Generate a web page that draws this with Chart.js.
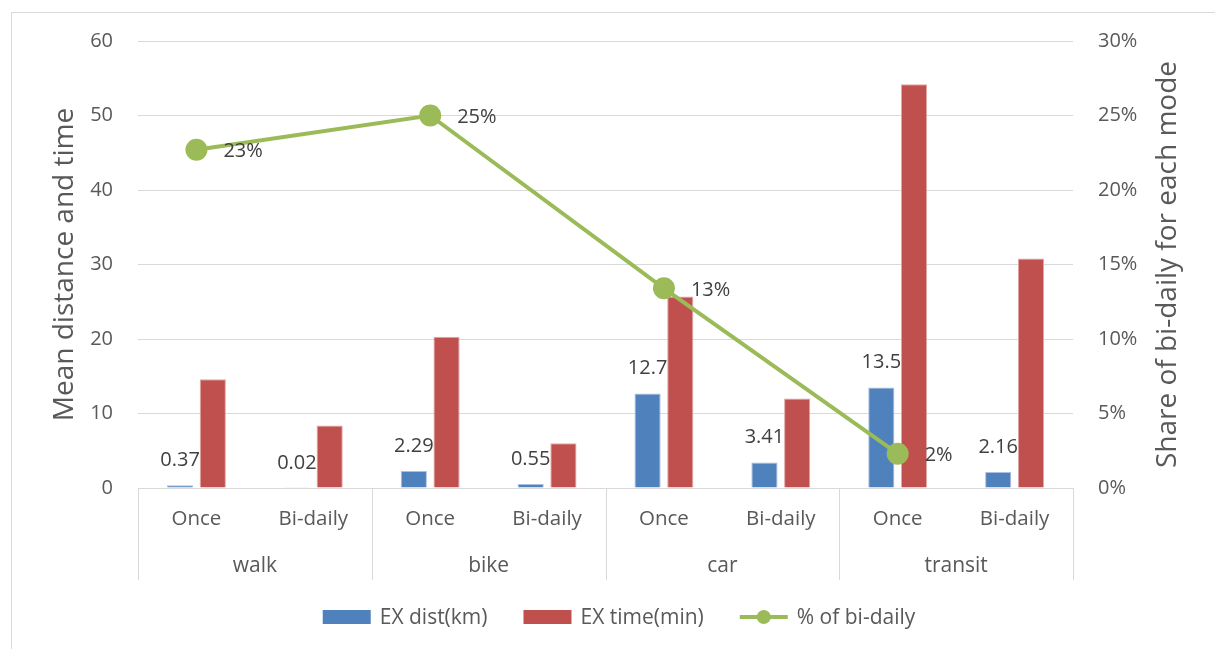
<!DOCTYPE html>
<html lang="en">
<head>
<meta charset="UTF-8">
<title>EX distance and time by mode</title>
<script src="https://cdn.jsdelivr.net/npm/chart.js"></script>
<style>
  body { margin: 0; background: #fff; overflow: hidden; }
  #frame {
    position: absolute; left: 11px; top: 12px; width: 1300px; height: 700px;
    border-left: 1px solid #d9d9d9; border-top: 1px solid #d9d9d9;
  }
  #wrap { position: absolute; left: 0; top: 0; width: 1215px; height: 649px; }
</style>
</head>
<body>
<div id="frame"></div>
<div id="wrap"><canvas id="chart" width="1215" height="649"></canvas></div>
<script>
  // data
  const modes = ['walk', 'bike', 'car', 'transit'];
  const freqLabels = ['Once', 'Bi-daily', 'Once', 'Bi-daily', 'Once', 'Bi-daily', 'Once', 'Bi-daily'];
  const distKm = [0.37, 0.02, 2.29, 0.55, 12.7, 3.41, 13.5, 2.16];
  const timeMin = [14.6, 8.4, 20.3, 6.0, 25.7, 12.0, 54.2, 30.8];
  const shareBiDaily = [22.7, null, 25.0, null, 13.4, null, 2.3, null];
  const seriesNames = ['EX dist(km)', 'EX time(min)', '% of bi-daily'];

  const FONT = '"Open Sans", sans-serif';
  const BLUE = '#4f81bd', RED = '#c0504d', GREEN = '#9bbb59';
  const TXT = '#595959';

  // labels, separators, titles and legend
  const extras = {
    id: 'extras',
    afterDatasetsDraw(chart) {
      const ctx = chart.ctx;
      const area = chart.chartArea;
      const x = chart.scales.x;
      const w = (area.right - area.left) / freqLabels.length;
      ctx.save();

      // value labels on blue bars
      ctx.font = '20px ' + FONT;
      ctx.fillStyle = '#404040';
      ctx.textAlign = 'center';
      ctx.textBaseline = 'middle';
      chart.getDatasetMeta(0).data.forEach((bar, i) => {
        ctx.fillText(String(distKm[i]), bar.x, bar.y - 25);
      });

      // percentage labels right of the points
      ctx.textAlign = 'left';
      chart.getDatasetMeta(2).data.forEach((pt, i) => {
        if (shareBiDaily[i] == null) return;
        ctx.fillText(Math.round(shareBiDaily[i]) + '%', pt.x + 27, pt.y + 2);
      });

      // category separators
      ctx.strokeStyle = '#d9d9d9';
      ctx.lineWidth = 1;
      for (let k = 0; k <= modes.length; k++) {
        const px = Math.round(area.left + k * 2 * w) + 0.5;
        ctx.beginPath();
        ctx.moveTo(px, area.bottom);
        ctx.lineTo(px, area.bottom + 92);
        ctx.stroke();
      }

      // x labels
      ctx.fillStyle = TXT;
      ctx.textAlign = 'center';
      ctx.font = '20.5px ' + FONT;
      freqLabels.forEach((lab, i) => {
        ctx.fillText(lab, x.getPixelForValue(i), area.bottom + 31);
      });
      ctx.font = '21px ' + FONT;
      modes.forEach((m, g) => {
        ctx.fillText(m, area.left + (g * 2 + 1) * w, area.bottom + 78);
      });

      // axis titles
      ctx.font = '28px ' + FONT;
      const midY = (area.top + area.bottom) / 2;
      ctx.save();
      ctx.translate(65, midY);
      ctx.rotate(-Math.PI / 2);
      ctx.fillText('Mean distance and time', 0, 0);
      ctx.restore();
      ctx.save();
      ctx.translate(1168, midY);
      ctx.rotate(-Math.PI / 2);
      ctx.fillText('Share of bi-daily for each mode', 0, 0);
      ctx.restore();

      // legend
      ctx.font = '21px ' + FONT;
      ctx.textAlign = 'left';
      const ly = 617;
      const widths = seriesNames.map(s => ctx.measureText(s).width);
      const total = widths.reduce((a, b) => a + b, 0) + 3 * (48 + 9) + 2 * 36;
      let lx = 619 - total / 2;
      seriesNames.forEach((s, i) => {
        if (i < 2) {
          ctx.fillStyle = i === 0 ? BLUE : RED;
          ctx.fillRect(lx, ly - 7, 48, 14);
        } else {
          ctx.strokeStyle = GREEN;
          ctx.lineWidth = 4;
          ctx.beginPath();
          ctx.moveTo(lx, ly);
          ctx.lineTo(lx + 48, ly);
          ctx.stroke();
          ctx.fillStyle = GREEN;
          ctx.beginPath();
          ctx.arc(lx + 24, ly, 7, 0, Math.PI * 2);
          ctx.fill();
        }
        ctx.fillStyle = TXT;
        ctx.fillText(s, lx + 57, ly + 1);
        lx += 57 + widths[i] + 36;
      });

      ctx.restore();
    }
  };

  new Chart(document.getElementById('chart'), {
    type: 'bar',
    data: {
      labels: freqLabels,
      datasets: [
        {
          label: seriesNames[0], data: distKm, yAxisID: 'y', order: 2,
          backgroundColor: BLUE, borderColor: '#a9c0de', borderWidth: 1,
          categoryPercentage: 0.56, barPercentage: 0.8
        },
        {
          label: seriesNames[1], data: timeMin, yAxisID: 'y', order: 2,
          backgroundColor: RED, borderColor: '#e0a8a6', borderWidth: 1,
          categoryPercentage: 0.56, barPercentage: 0.8
        },
        {
          type: 'line', label: seriesNames[2], data: shareBiDaily, yAxisID: 'y1', order: 1,
          borderColor: GREEN, backgroundColor: GREEN, borderWidth: 4,
          pointRadius: 11, pointHoverRadius: 11, pointBorderWidth: 0,
          spanGaps: true, tension: 0
        }
      ]
    },
    options: {
      responsive: false,
      animation: false,
      devicePixelRatio: 1,
      layout: { padding: { top: 41, left: 0, right: 0, bottom: 0 } },
      plugins: { legend: { display: false }, tooltip: { enabled: false } },
      scales: {
        x: {
          offset: true,
          grid: { display: false },
          border: { display: false },
          ticks: { display: false },
          afterFit(s) { s.height = 161; }
        },
        y: {
          position: 'left', min: 0, max: 60,
          ticks: { stepSize: 10, color: TXT, padding: 25, font: { family: FONT, size: 20 } },
          grid: { color: '#d9d9d9', drawTicks: false },
          border: { display: false },
          afterFit(s) { s.width = 138; }
        },
        y1: {
          position: 'right', min: 0, max: 30,
          ticks: { stepSize: 5, color: TXT, padding: 25, font: { family: FONT, size: 20 },
                   callback: v => v + '%' },
          grid: { drawOnChartArea: false, drawTicks: false },
          border: { display: false },
          afterFit(s) { s.width = 142; }
        }
      }
    },
    plugins: [extras]
  });
</script>
</body>
</html>
